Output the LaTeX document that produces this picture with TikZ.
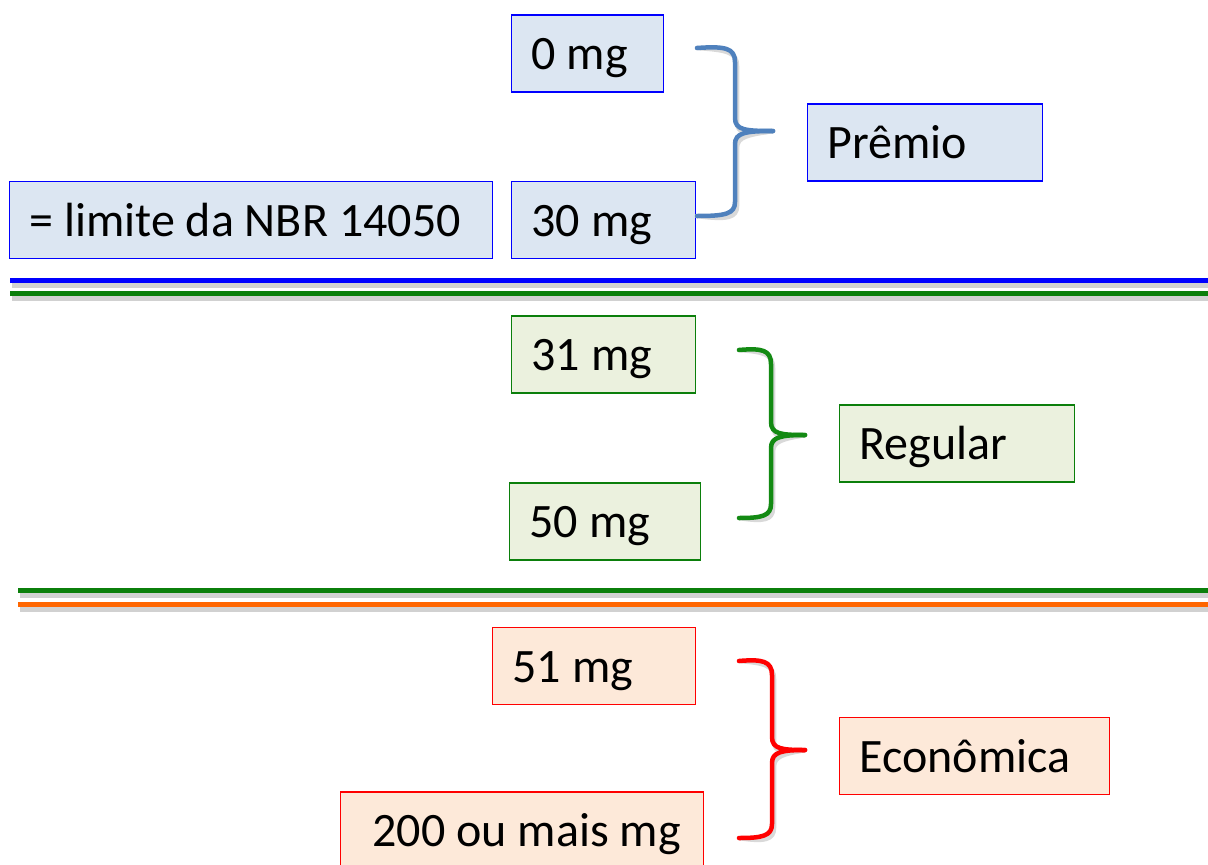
\documentclass[tikz,border=0pt]{standalone}
\usepackage{fontspec}
\setmainfont{Carlito}
\definecolor{bfill}{HTML}{DCE6F2}
\definecolor{gfill}{HTML}{EBF1DE}
\definecolor{rfill}{HTML}{FDE9D9}
\definecolor{bdraw}{HTML}{0000FF}
\definecolor{gdraw}{HTML}{0B7F0B}
\definecolor{rdraw}{HTML}{FF0000}
\definecolor{bbrace}{HTML}{4F81BD}
\definecolor{gbrace}{HTML}{138A13}
\definecolor{orng}{HTML}{FF6600}
\tikzset{
  box/.style={draw, line width=1.1pt, inner xsep=20pt, inner ysep=0pt,
    text height=32pt, text depth=0pt, minimum height=77pt, anchor=west,
    align=flush left, font=\fontsize{48}{54}\selectfont},
  bluebox/.style={box, draw=bdraw, fill=bfill},
  greenbox/.style={box, draw=gdraw, fill=gfill},
  redbox/.style={box, draw=rdraw, fill=rfill},
  bracepath/.style={line width=4.5pt, line cap=round, line join=round},
  shadowline/.style={line width=5pt, draw=black!18},
  sepline/.style={line width=5pt}
}
\begin{document}
\begin{tikzpicture}[x=1pt,y=-1pt]
\useasboundingbox (0,0) rectangle (1208,865);
% separator lines with shadow
\draw[shadowline] (12,285) -- (1208,285);
\draw[shadowline] (12,298) -- (1208,298);
\draw[shadowline] (20,595) -- (1208,595);
\draw[shadowline] (20,609) -- (1208,609);
\draw[sepline, bdraw] (10,280) -- (1208,280);
\draw[sepline, gdraw] (10,293) -- (1208,293);
\draw[sepline, gdraw] (18,590) -- (1208,590);
\draw[sepline, orng] (18,604) -- (1208,604);
% boxes
\node[bluebox, text width=112pt] (b0) at (511,53.5) {0 mg};
\node[bluebox, text width=144pt] (b30) at (511,220) {30 mg};
\node[bluebox, text width=443pt] (blim) at (9,220) {= limite da NBR 14050};
\node[bluebox, text width=195pt] (prem) at (807,142.5) {Prêmio};
\node[greenbox, text width=144pt] (b31) at (511,354.5) {31 mg};
\node[greenbox, text width=151pt] (b50) at (509,521.5) {50 mg};
\node[greenbox, text width=195pt] (reg) at (839,443.5) {Regular};
\node[redbox, text width=163pt] (b51) at (492,666) {51 mg};
\node[redbox, text width=323pt] (b200) at (340,830.5) {\hspace*{12pt}200 ou mais mg};
\node[redbox, text width=230pt] (eco) at (839,756) {Econômica};
% brace end points
\coordinate (pt) at (697,48);
\coordinate (pb) at (697,216);
\coordinate (ptip) at (773,131);
\coordinate (gt) at (739,350);
\coordinate (gb) at (739,518);
\coordinate (gtip) at (805,435);
\coordinate (rt) at (739,661);
\coordinate (rb) at (739,838);
\coordinate (rtip) at (805,750);
% shadows of braces
\begin{scope}[bracepath, draw=black!15, shift={(2,4)}]
\draw (pt) .. controls (725,46) and (735,48) .. (735,62) -- (735,118) .. controls (735,130) and (745,131) .. (ptip);
\draw (ptip) .. controls (745,131) and (735,133) .. (735,144) -- (735,202) .. controls (735,214) and (725,216) .. (pb);
\draw (gt) .. controls (762,348) and (771,350) .. (771,364) -- (771,422) .. controls (771,434) and (781,435) .. (gtip);
\draw (gtip) .. controls (781,435) and (771,437) .. (771,448) -- (771,504) .. controls (771,516) and (762,518) .. (gb);
\draw (rt) .. controls (762,659) and (772,661) .. (772,675) -- (772,737) .. controls (772,749) and (782,750) .. (rtip);
\draw (rtip) .. controls (782,750) and (772,752) .. (772,763) -- (772,824) .. controls (772,836) and (762,838) .. (rb);
\end{scope}
% braces
\draw[bracepath, bbrace] (pt) .. controls (725,46) and (735,48) .. (735,62) -- (735,118) .. controls (735,130) and (745,131) .. (ptip);
\draw[bracepath, bbrace] (ptip) .. controls (745,131) and (735,133) .. (735,144) -- (735,202) .. controls (735,214) and (725,216) .. (pb);
\draw[bracepath, gbrace] (gt) .. controls (762,348) and (771,350) .. (771,364) -- (771,422) .. controls (771,434) and (781,435) .. (gtip);
\draw[bracepath, gbrace] (gtip) .. controls (781,435) and (771,437) .. (771,448) -- (771,504) .. controls (771,516) and (762,518) .. (gb);
\draw[bracepath, rdraw] (rt) .. controls (762,659) and (772,661) .. (772,675) -- (772,737) .. controls (772,749) and (782,750) .. (rtip);
\draw[bracepath, rdraw] (rtip) .. controls (782,750) and (772,752) .. (772,763) -- (772,824) .. controls (772,836) and (762,838) .. (rb);
\end{tikzpicture}
\end{document}
